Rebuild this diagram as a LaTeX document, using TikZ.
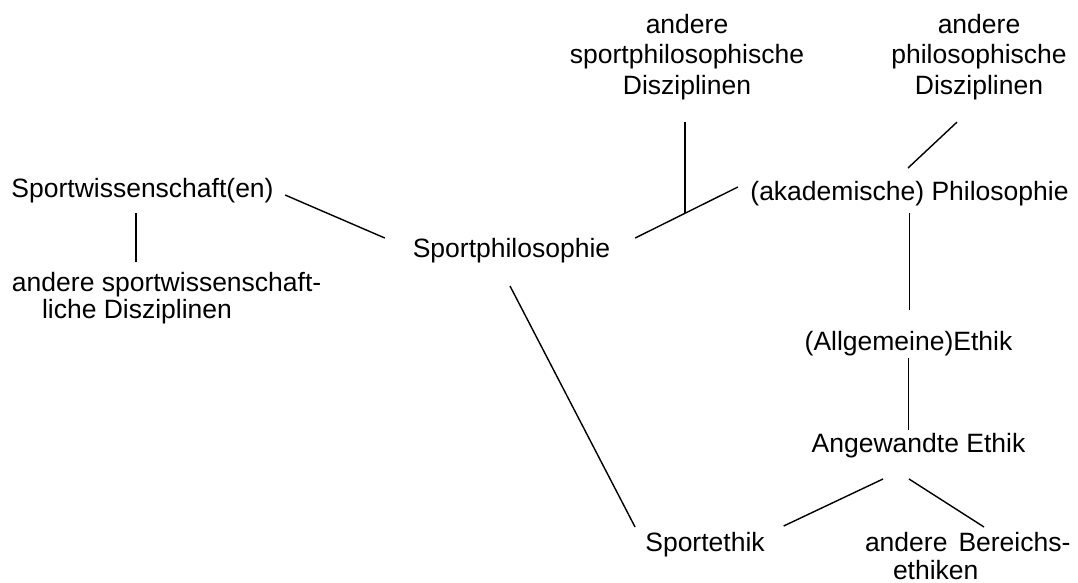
\documentclass[tikz,border=0pt]{standalone}
\usepackage{fontspec}
\setmainfont{Liberation Sans}
\begin{document}
\begin{tikzpicture}[x=1pt,y=-1pt,
  lbl/.style={inner sep=0pt, outer sep=0pt, font=\fontsize{26.5pt}{30pt}\selectfont},
  stack/.style={lbl, align=center, font=\fontsize{26.5pt}{30.5pt}\selectfont},
  wrapped/.style={lbl, align=left, font=\fontsize{26.5pt}{27.5pt}\selectfont},
  link/.style={line width=1.4pt, draw=black}]

\path[use as bounding box, fill=white] (0,0) rectangle (1078,583);

% labels (single lines placed by their baseline)
\node[lbl, anchor=base] (sw)  at (142.5,197) {Sportwissenschaft(en)};
\node[lbl, anchor=base] (sp)  at (511.5,257) {Sportphilosophie};
\node[lbl, anchor=base] (ak)  at (909.5,200) {(akademische) Philosophie};
\node[lbl, anchor=base] (ae)  at (908.5,350) {(Allgemeine)Ethik};
\node[lbl, anchor=base] (ang) at (918.5,452) {Angewandte Ethik};
\node[lbl, anchor=base] (se)  at (705,551)   {Sportethik};

% labels set over several lines (placed by their top edge)
\node[stack, anchor=north] (spd) at (687,14) {andere\\sportphilosophische\\Disziplinen};
\node[stack, anchor=north] (apd) at (979,14) {andere\\philosophische\\Disziplinen};
\node[wrapped, anchor=north west] (asd) at (12,272) {andere sportwissenschaft-\\\hspace*{30pt}liche Disziplinen};
\node[wrapped, anchor=north west, font=\fontsize{26.5pt}{28pt}\selectfont] (abe) at (865,532) {andere\hspace{11pt}Bereichs-\\\hspace*{28pt}ethiken};

% connectors
\draw[link] ([shift={(11.5,-2)}]sw.base east) -- ([shift={(-28,-19)}]sp.base west);
\draw[link] ([shift={(25,-19)}]sp.base east) -- coordinate[pos=0.485] (j) ([shift={(-12.5,-13)}]ak.base west);
\draw[link, shorten >=22.4pt] (j) -- (j |- spd.south);
\draw[link] ([shift={(-1.5,-32)}]ak.base) -- ([shift={(-22,22.4)}]apd.south);
\draw[link, shorten <=13pt, shorten >=40pt] (ak.base) -- (ak.base |- ae.base);
\draw[link, shorten <=8pt, shorten >=22pt] (ae.base) -- (ae.base |- ang.base);
\draw[link] ([shift={(-35.5,27)}]ang.base) -- ([shift={(19,-25)}]se.base east);
\draw[link] ([shift={(-9.5,27)}]ang.base) -- ([shift={(119,-5)}]abe.north west);
\draw[link] ([shift={(-1.5,29)}]sp.base) -- ([shift={(-10.3,-24)}]se.base west);
\coordinate (swfoot) at ([shift={(-6.5,16)}]sw.base);
\draw[link, shorten >=10pt] (swfoot) -- (swfoot |- asd.north);

\end{tikzpicture}
\end{document}
